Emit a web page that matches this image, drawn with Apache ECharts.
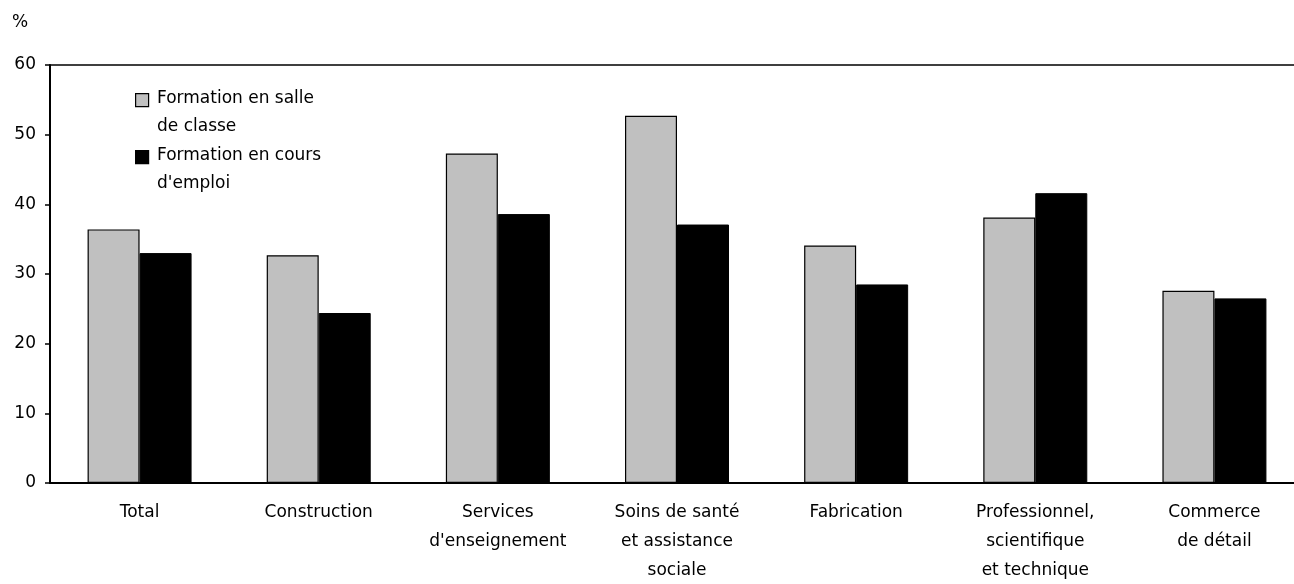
<!DOCTYPE html>
<html><head><meta charset="utf-8">
<script src="https://cdn.jsdelivr.net/npm/echarts@6/dist/echarts.min.js"></script>
<style>html,body{margin:0;padding:0;background:#fff}#c{width:1294px;height:584px}</style>
</head><body><div id="c"></div>
<script>
const categories = ["Total","Construction","Services\nd'enseignement","Soins de santé\net assistance\nsociale","Fabrication","Professionnel,\nscientifique\net technique","Commerce\nde détail"];
const seriesNames = ["Formation en salle de classe","Formation en cours d'emploi"];
const legendLines = [["Formation en salle","de classe"],["Formation en cours","d'emploi"]];
const classroom = [36.4, 32.7, 47.3, 52.7, 34.1, 38.1, 27.6];
const onTheJob = [33.0, 24.4, 38.6, 37.1, 28.5, 41.6, 26.5];
const yTicks = [0,10,20,30,40,50,60];
const unitLabel = "%";

const FONT = "DejaVu Sans";
const FS = 17;
const chart = echarts.init(document.getElementById('c'), null, {renderer:'canvas'});
const colors = ['#c0c0c0', '#000000'];
const graphics = [{type:'text', left:12, top:14, style:{text:unitLabel, font:FS+'px "'+FONT+'"', fill:'#000'}}];
legendLines.forEach((lines, i) => {
  const y0 = 93 + i*57;
  graphics.push({type:'rect', left:135, top:y0, shape:{width:13, height:13}, style:{fill:colors[i], stroke:'#000', lineWidth:1.2}});
  lines.forEach((t, j) => {
    graphics.push({type:'text', left:157, top:y0 - 3 + j*28, style:{text:t, font:FS+'px "'+FONT+'"', fill:'#000'}});
  });
});
chart.setOption({
  animation:false,
  grid:{left:50, right:-10, top:65, bottom:101, containLabel:false, outerBoundsMode:'none'},
  xAxis:[{
    type:'category', data:categories,
    axisLine:{show:true, lineStyle:{color:'#000', width:2}},
    axisTick:{show:false},
    axisLabel:{color:'#000', fontFamily:FONT, fontSize:FS, lineHeight:29, margin:15, interval:0}
  },{
    type:'category', data:categories, position:'top',
    axisLine:{show:true, lineStyle:{color:'#000', width:1.5}},
    axisTick:{show:false}, axisLabel:{show:false}
  }],
  yAxis:{
    type:'value', min:yTicks[0], max:yTicks[yTicks.length-1], interval:10,
    axisLine:{show:true, lineStyle:{color:'#000', width:2}},
    axisTick:{show:true, length:5, lineStyle:{color:'#000', width:1.5}},
    axisLabel:{color:'#000', fontFamily:FONT, fontSize:FS, margin:14},
    splitLine:{show:false}
  },
  series:[
    {name:seriesNames[0], type:'bar', data:classroom, barWidth:52, barGap:'0%',
     itemStyle:{color:colors[0], borderColor:'#000', borderWidth:1.2}},
    {name:seriesNames[1], type:'bar', data:onTheJob, barWidth:52, barGap:'0%',
     itemStyle:{color:colors[1], borderColor:'#000', borderWidth:1}}
  ],
  graphic:graphics
});
</script></body></html>
